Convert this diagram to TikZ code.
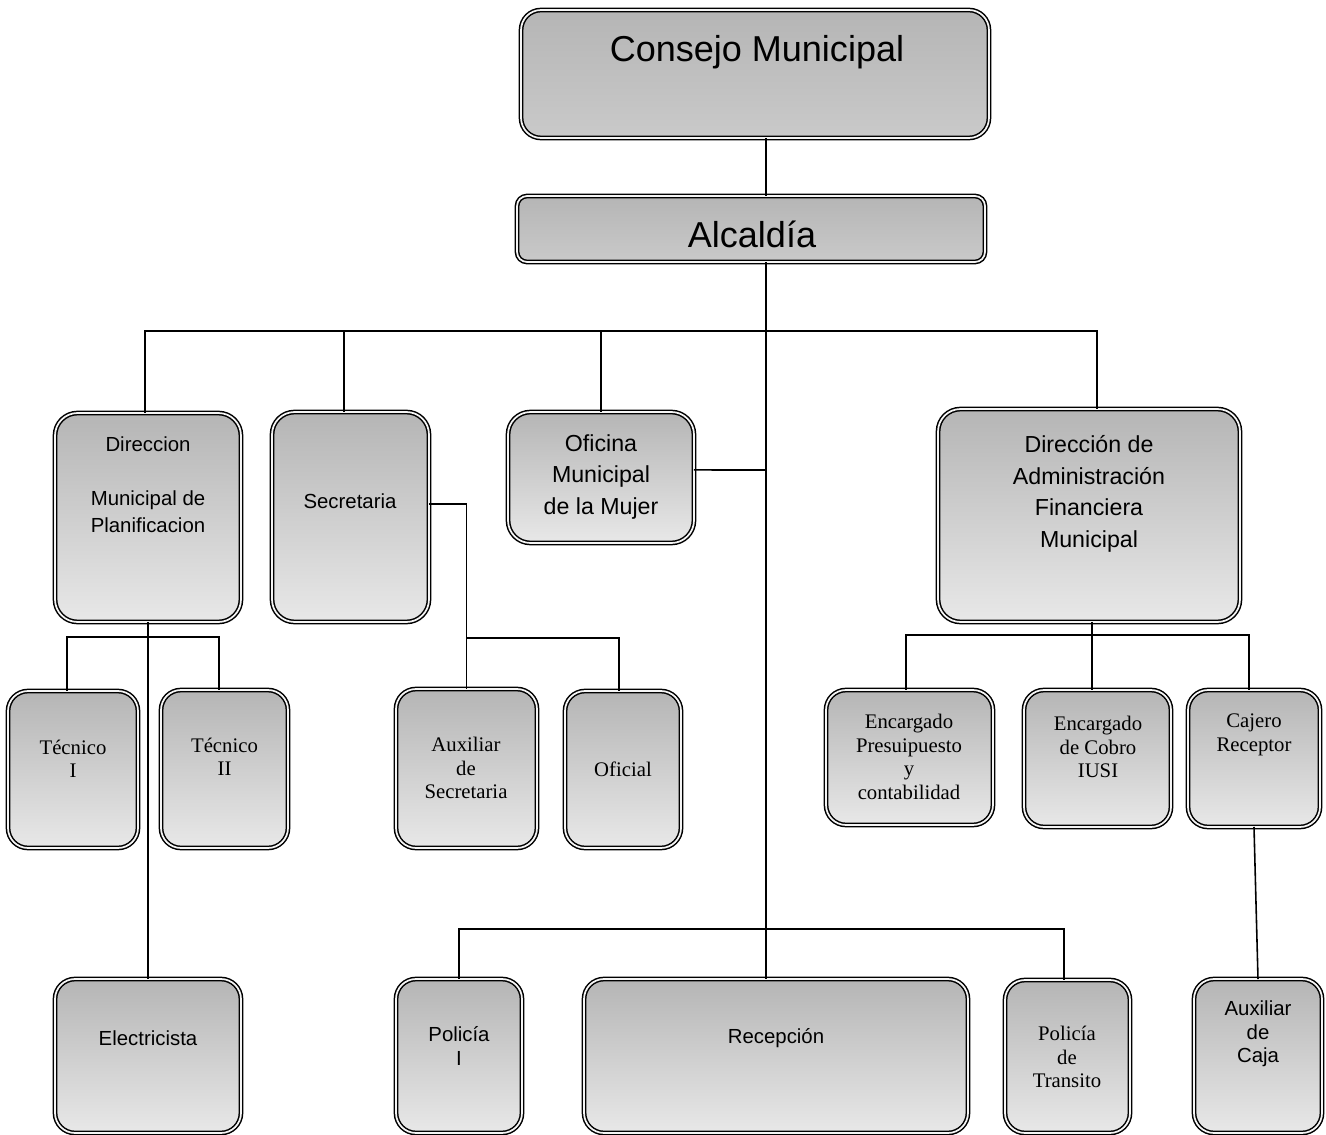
\documentclass[tikz,border=0pt]{standalone}
\usepackage{fontspec}
\setmainfont{Liberation Serif}
\setsansfont{Liberation Sans}
\tikzset{>=latex}
\tikzset{
  box/.style={draw=black,line width=0.85pt,double=gray!8,double distance=1pt,rounded corners=0.45cm,top color=gray!58,bottom color=gray!18,inner sep=0pt,outer sep=0pt},
  headbox/.style={box,top color=gray!58,bottom color=gray!42},
  headtxt/.style={font=\sffamily\fontsize{20.5}{24}\selectfont,inner sep=0pt},
  bigtxt/.style={font=\sffamily\fontsize{13.2}{18}\selectfont,align=center,inner sep=0pt},
  sanstxt/.style={font=\sffamily\fontsize{11.6}{15.4}\selectfont,align=center,inner sep=0pt},
  tighttxt/.style={font=\sffamily\fontsize{11.6}{13.3}\selectfont,align=center,inner sep=0pt},
  serftxt/.style={font=\fontsize{11.8}{13.4}\selectfont,align=center,inner sep=0pt},
  link/.style={line width=0.9pt},
}

\begin{document}
\begin{tikzpicture}[x=0.02cm,y=-0.02cm]
\useasboundingbox (0,0) rectangle (1326,1135);
\node[headbox,rounded corners=0.4cm,minimum width=9.36cm,minimum height=2.56cm] (consejo) at (755,74) {};
\node[headbox,rounded corners=0.2cm,minimum width=9.36cm,minimum height=1.32cm] (alcaldia) at (751,229) {};
\node[box,minimum width=3.72cm,minimum height=4.18cm] (dir) at (148,517.5) {};
\node[box,minimum width=3.14cm,minimum height=4.20cm] (sec) at (350.5,517) {};
\node[box,minimum width=3.72cm,minimum height=2.62cm] (ofi) at (601,477.5) {};
\node[box,minimum width=6.04cm,minimum height=4.26cm] (dafm) at (1089,515.5) {};
\node[box,rounded corners=0.4cm,minimum width=2.60cm,minimum height=3.14cm] (tec1) at (73,769.5) {};
\node[box,rounded corners=0.4cm,minimum width=2.54cm,minimum height=3.16cm] (tec2) at (224.5,769) {};
\node[box,rounded corners=0.4cm,minimum width=2.82cm,minimum height=3.18cm] (auxsec) at (466.5,768.5) {};
\node[box,rounded corners=0.4cm,minimum width=2.32cm,minimum height=3.14cm] (oficial) at (623,769.5) {};
\node[box,rounded corners=0.4cm,minimum width=3.34cm,minimum height=2.70cm] (presup) at (909.5,757.5) {};
\node[box,rounded corners=0.4cm,minimum width=2.94cm,minimum height=2.74cm] (cobro) at (1097.5,758.5) {};
\node[box,rounded corners=0.4cm,minimum width=2.64cm,minimum height=2.74cm] (cajero) at (1254,758.5) {};
\node[box,rounded corners=0.4cm,minimum width=3.72cm,minimum height=3.08cm] (elec) at (148,1056) {};
\node[box,rounded corners=0.4cm,minimum width=2.52cm,minimum height=3.08cm] (pol1) at (459,1056) {};
\node[box,rounded corners=0.4cm,minimum width=7.68cm,minimum height=3.08cm] (recep) at (776,1056) {};
\node[box,rounded corners=0.4cm,minimum width=2.50cm,minimum height=3.06cm] (poltr) at (1067.5,1056.5) {};
\node[box,rounded corners=0.4cm,minimum width=2.56cm,minimum height=3.08cm] (auxcaja) at (1258,1056) {};
\node[headtxt] (consejo-t) at (757,52) {Consejo Municipal};
\node[headtxt] (alcaldia-t) at (752,234) {Alcaldía};
\node[sanstxt] (dir-t) at (148,485) {Direccion\\[15.4pt]Municipal de\\Planificacion};
\node[sanstxt] (sec-t) at (350,501) {Secretaria};
\node[bigtxt] (ofi-t) at (601,477) {Oficina\\Municipal\\de la Mujer};
\node[bigtxt] (dafm-t) at (1089,494) {Dirección de\\Administración\\Financiera\\Municipal};
\node[serftxt] (tec1-t) at (73,759) {Técnico\\I};
\node[serftxt] (tec2-t) at (224.5,757) {Técnico\\II};
\node[serftxt] (auxsec-t) at (466,768) {Auxiliar\\de\\Secretaria};
\node[serftxt] (oficial-t) at (623,769) {Oficial};
\node[serftxt] (presup-t) at (909,757) {Encargado\\Presuipuesto\\y\\contabilidad};
\node[serftxt] (cobro-t) at (1098,747) {Encargado\\de Cobro\\IUSI};
\node[serftxt] (cajero-t) at (1254,735) {Cajero\\Receptor};
\node[sanstxt] (elec-t) at (148,1038) {Electricista};
\node[tighttxt] (pol1-t) at (459,1046) {Policía\\I};
\node[sanstxt] (recep-t) at (776,1038) {Recepción};
\node[serftxt] (poltr-t) at (1067,1057) {Policía\\de\\Transito};
\node[tighttxt] (auxcaja-t) at (1258,1034) {Auxiliar\\de\\Caja};
\coordinate (trunk) at (766,331);
\coordinate (ofijoin) at (766,470);
\coordinate (dirbar) at (148,637);
\coordinate (secbar) at (466.5,638);
\coordinate (finbar) at (1092,635);
\coordinate (polbar) at (766,929);
\path [draw,link] (consejo.south -| trunk) -- (alcaldia.north -| trunk);
\path [draw,link] (alcaldia.south -| trunk) -- (recep.north -| trunk);
\path [draw,link] (trunk) -| ([xshift=-1.7pt]dir.north);
\path [draw,link] (trunk) -| ([xshift=-3.7pt]sec.north);
\path [draw,link] (trunk) -| (ofi.north);
\path [draw,link] (trunk) -| ([xshift=4.6pt]dafm.north);
\path [draw,link] ([yshift=4.3pt]ofi.east) -- (ofijoin);
\path [draw,link] (dir.south) -- (elec.north);
\path [draw,link] (dirbar) -| ([xshift=-3.4pt]tec1.north);
\path [draw,link] (dirbar) -| ([xshift=-3pt]tec2.north);
\path [draw,link] ([yshift=7.4pt]sec.east) -| (auxsec.north);
\path [draw,link] (secbar) -| ([xshift=-2.3pt]oficial.north);
\path [draw,link] (dafm.south -| finbar) -- (cobro.north -| finbar);
\path [draw,link] (finbar) -| ([xshift=-2pt]presup.north);
\path [draw,link] (finbar) -| ([xshift=-2.8pt]cajero.north);
\path [draw,link] (cajero.south) -- (auxcaja.north);
\path [draw,link] (polbar) -| (pol1.north);
\path [draw,link] (polbar) -| ([xshift=-2pt]poltr.north);
\end{tikzpicture}
\end{document}
